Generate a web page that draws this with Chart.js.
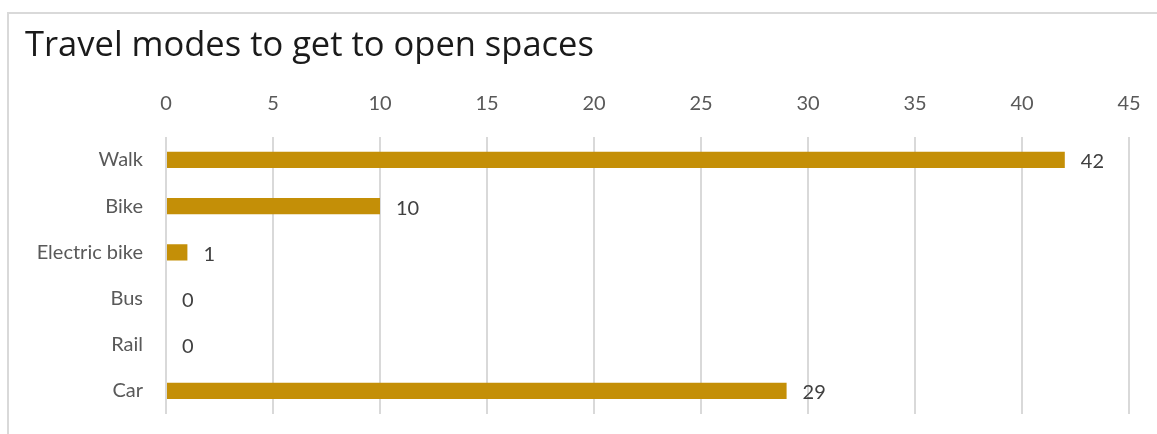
<!DOCTYPE html>
<html>
<head>
<meta charset="utf-8">
<script src="https://cdn.jsdelivr.net/npm/chart.js@4/dist/chart.umd.min.js"></script>
<style>
  html, body { margin: 0; padding: 0; background: #fff; overflow: hidden; }
  .frame {
    position: absolute; left: 7px; top: 12px;
    width: 1300px; height: 600px;
    border: 2px solid #d9d9d9; box-sizing: border-box;
  }
  .wrap { position: absolute; left: 0; top: 0; width: 1157px; height: 434px; }
</style>
</head>
<body>
<div class="frame"></div>
<div class="wrap"><canvas id="modesChart"></canvas></div>
<script>
const modes = ['Walk', 'Bike', 'Electric bike', 'Bus', 'Rail', 'Car'];
const counts = [42, 10, 1, 0, 0, 29];
const axisMax = 45;
const axisStep = 5;

const barColor = '#c48f07';
const gridColor = '#d9d9d9';

// prints the count just past the end of each bar
const valueLabels = {
    id: 'valueLabels',
    afterDatasetsDraw(chart) {
        const ctx = chart.ctx;
        const meta = chart.getDatasetMeta(0);
        ctx.save();
        ctx.font = '20px Lato';
        ctx.fillStyle = '#404040';
        ctx.textAlign = 'left';
        ctx.textBaseline = 'middle';
        meta.data.forEach((bar, i) => {
            ctx.fillText(String(counts[i]), bar.x + 16, bar.y + 2);
        });
        ctx.restore();
    }
};

const ctx = document.getElementById('modesChart').getContext('2d');
new Chart(ctx, {
    type: 'bar',
    data: {
        labels: modes,
        datasets: [{
            data: counts,
            backgroundColor: barColor,
            categoryPercentage: 1,
            barPercentage: 0.35
        }]
    },
    options: {
        indexAxis: 'y',
        responsive: true,
        maintainAspectRatio: false,
        animation: false,
        layout: { padding: { left: 25, right: 28, top: 24, bottom: 20 } },
        plugins: {
            legend: { display: false },
            tooltip: { enabled: false },
            title: {
                display: true,
                text: 'Travel modes to get to open spaces',
                align: 'start',
                color: '#1a1a1a',
                font: { family: 'Open Sans', size: 34.5, weight: 'normal', lineHeight: 1.3 },
                padding: 0
            }
        },
        scales: {
            x: {
                position: 'top',
                min: 0,
                max: axisMax,
                ticks: {
                    stepSize: axisStep,
                    color: '#595959',
                    font: { family: 'Lato', size: 20 },
                    padding: 21
                },
                grid: { color: gridColor, lineWidth: 2, drawTicks: false },
                border: { display: false },
                afterFit(scale) {
                    scale.height = 68;
                    scale.paddingLeft = 0;
                    scale.paddingRight = 0;
                }
            },
            y: {
                ticks: {
                    color: '#595959',
                    font: { family: 'Lato', size: 20 },
                    padding: 23
                },
                grid: { display: false, drawTicks: false },
                border: { display: false },
                afterFit(scale) {
                    scale.width = 141;
                    scale.paddingTop = 0;
                    scale.paddingBottom = 0;
                }
            }
        }
    },
    plugins: [valueLabels]
});
</script>
</body>
</html>
